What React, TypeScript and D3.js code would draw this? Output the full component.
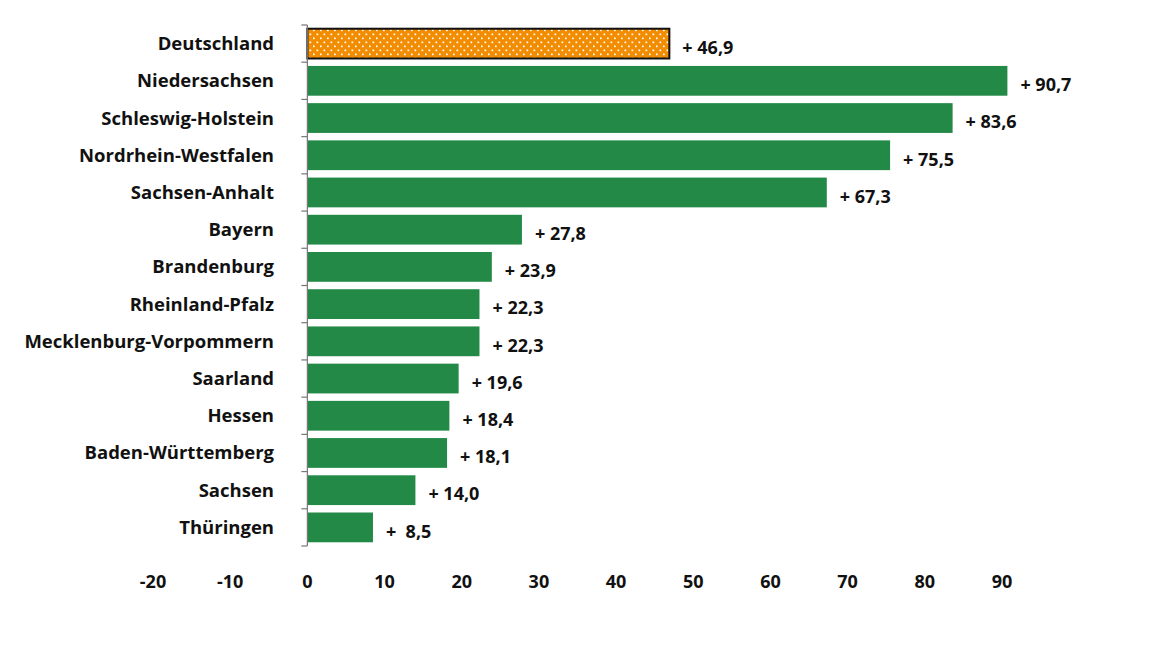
import React from 'react';
import * as d3 from 'd3';

const regions = [
  'Deutschland', 'Niedersachsen', 'Schleswig-Holstein', 'Nordrhein-Westfalen', 'Sachsen-Anhalt',
  'Bayern', 'Brandenburg', 'Rheinland-Pfalz', 'Mecklenburg-Vorpommern', 'Saarland',
  'Hessen', 'Baden-Württemberg', 'Sachsen', 'Thüringen',
];
const changes = [46.9, 90.7, 83.6, 75.5, 67.3, 27.8, 23.9, 22.3, 22.3, 19.6, 18.4, 18.1, 14.0, 8.5];
const xTicks = [-20, -10, 0, 10, 20, 30, 40, 50, 60, 70, 80, 90];

const font = "'Open Sans', 'Noto Sans', sans-serif";

const fmt = (v: number) => {
  const s = v.toFixed(1).replace('.', ',');
  return v < 10 ? `+  ${s}` : `+ ${s}`;
};

export default function App() {
  const width = 1160;
  const height = 652;

  const x = d3.scaleLinear().domain([-20, 90]).range([153, 1002]);
  const y = d3.scaleBand().domain(regions).range([25, 546]).paddingInner(0.2).paddingOuter(0.1);
  const step = y.step();

  return (
    <svg width={width} height={height} style={{ position: 'absolute', left: 0, top: 0, background: '#fff' }}>
      <defs>
        <pattern id="dots" width="7" height="8" patternUnits="userSpaceOnUse">
          <rect width="7" height="8" fill="#F28C00" />
          <rect x="1.5" y="1.5" width="1.7" height="1.7" fill="#fff" />
          <rect x="5" y="5.5" width="1.7" height="1.7" fill="#fff" />
        </pattern>
      </defs>

      {/* bars */}
      {regions.map((r, i) => {
        const v = changes[i];
        const by = y(r)!;
        const isDE = i === 0;
        return (
          <g key={r}>
            <rect
              x={x(0)}
              y={by}
              width={x(v) - x(0)}
              height={y.bandwidth()}
              fill={isDE ? 'url(#dots)' : '#238947'}
              stroke={isDE ? '#111' : 'none'}
              strokeWidth={isDE ? 2 : 0}
            />
            <text
              x={x(v) + 13}
              y={by + y.bandwidth() / 2 + 4}
              dy="0.35em"
              fontFamily={font}
              fontWeight={700}
              fontSize={18}
              fill="#111"
              style={{ whiteSpace: 'pre' }}
            >
              {fmt(v)}
            </text>
            <text
              x={274}
              y={by + y.bandwidth() / 2}
              dy="0.35em"
              textAnchor="end"
              fontFamily={font}
              fontWeight={700}
              fontSize={18.5}
              fill="#111"
            >
              {r}
            </text>
          </g>
        );
      })}

      {/* category axis */}
      <line x1={x(0)} x2={x(0)} y1={25} y2={546} stroke="#777" strokeWidth={1.2} />
      {d3.range(regions.length + 1).map(k => (
        <line key={k} x1={x(0) - 6} x2={x(0)} y1={25 + k * step} y2={25 + k * step} stroke="#777" strokeWidth={1.2} />
      ))}

      {/* value tick labels */}
      {xTicks.map(t => (
        <text
          key={t}
          x={x(t)}
          y={582}
          dy="0.35em"
          textAnchor="middle"
          fontFamily={font}
          fontWeight={700}
          fontSize={18}
          fill="#111"
        >
          {t}
        </text>
      ))}
    </svg>
  );
}
